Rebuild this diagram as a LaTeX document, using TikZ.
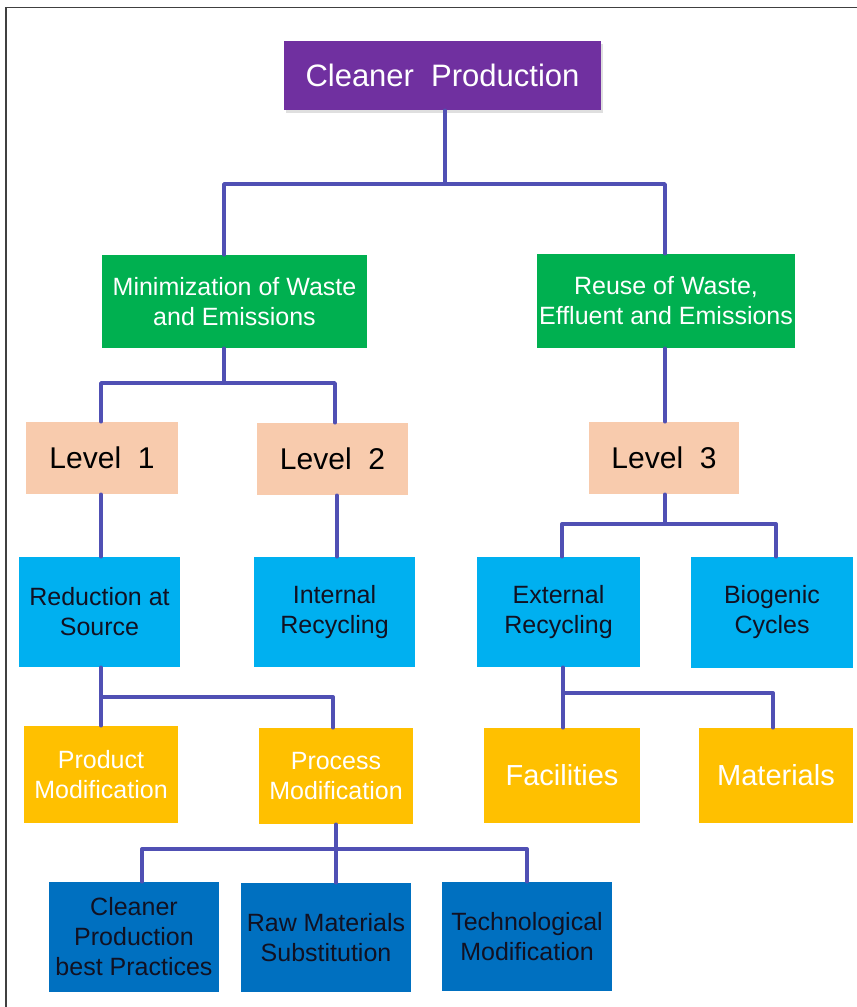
\documentclass[tikz,border=0pt]{standalone}
\usepackage{fontspec}
\setmainfont{Liberation Sans}
\usetikzlibrary{shadows}
\definecolor{cpPurple}{HTML}{7030A0}
\definecolor{cpGreen}{HTML}{00B050}
\definecolor{cpPeach}{HTML}{F8CBAD}
\definecolor{cpLight}{HTML}{00B0F0}
\definecolor{cpGold}{HTML}{FFC000}
\definecolor{cpDark}{HTML}{0070C0}
\definecolor{lineC}{RGB}{80,80,180}
\definecolor{txtDark}{HTML}{111122}
\begin{document}
\begin{tikzpicture}[x=1pt,y=-1pt,
  box/.style={inner sep=0pt, align=center, font=\fontsize{25}{30}\selectfont},
  conn/.style={draw=lineC, line width=3.4pt, line cap=round, line join=round},
  frame/.style={draw=black!75, line width=1.4pt}]
\useasboundingbox (0,0) rectangle (857,1007);
% frame (cropped: top and left edges)
\draw[frame] (6,1007) -- (6,7.5) -- (857,7.5);

% nodes
\node[box, fill=cpPurple, text=white, minimum width=317pt, minimum height=69pt,
  font=\fontsize{31}{36}\selectfont,
  drop shadow={shadow xshift=2pt, shadow yshift=-3pt, opacity=0.25}] (cp) at (442.5,75.5) {Cleaner\ \ Production};

\node[box, fill=cpGreen, text=white, minimum width=265pt, minimum height=93pt] (min) at (234.5,301.5) {Minimization of Waste\\and Emissions};
\node[box, fill=cpGreen, text=white, minimum width=258pt, minimum height=94pt] (reu) at (666,301) {Reuse of Waste,\\Effluent and Emissions};

\node[box, fill=cpPeach, text=black, minimum width=152pt, minimum height=72pt, font=\fontsize{30}{36}\selectfont] (l1) at (102,458) {Level\ \ 1};
\node[box, fill=cpPeach, text=black, minimum width=151pt, minimum height=72pt, font=\fontsize{30}{36}\selectfont] (l2) at (332.5,459) {Level\ \ 2};
\node[box, fill=cpPeach, text=black, minimum width=150pt, minimum height=72pt, font=\fontsize{30}{36}\selectfont] (l3) at (664,458) {Level\ \ 3};

\node[box, fill=cpLight, text=txtDark, minimum width=161pt, minimum height=110pt] (red) at (99.5,612) {Reduction at\\Source};
\node[box, fill=cpLight, text=txtDark, minimum width=161pt, minimum height=110pt] (int) at (334.5,612) {Internal\\Recycling};
\node[box, fill=cpLight, text=txtDark, minimum width=163pt, minimum height=110pt] (ext) at (558.5,612) {External\\Recycling};
\node[box, fill=cpLight, text=txtDark, minimum width=162pt, minimum height=111pt] (bio) at (772,612.5) {Biogenic\\Cycles};

\node[box, fill=cpGold, text=white, minimum width=154pt, minimum height=97pt] (prod) at (101,774.5) {Product\\Modification};
\node[box, fill=cpGold, text=white, minimum width=154pt, minimum height=96pt] (proc) at (336,776) {Process\\Modification};
\node[box, fill=cpGold, text=white, minimum width=156pt, minimum height=95pt, font=\fontsize{29}{34}\selectfont] (fac) at (562,775.5) {Facilities};
\node[box, fill=cpGold, text=white, minimum width=154pt, minimum height=95pt, font=\fontsize{29}{34}\selectfont] (mat) at (776,775.5) {Materials};

\node[box, fill=cpDark, text=txtDark, minimum width=170pt, minimum height=110pt] (cpb) at (134,937) {Cleaner\\Production\\best Practices};
\node[box, fill=cpDark, text=txtDark, minimum width=170pt, minimum height=109pt] (raw) at (326,937.5) {Raw Materials\\Substitution};
\node[box, fill=cpDark, text=txtDark, minimum width=170pt, minimum height=109pt] (tech) at (527,936.5) {Technological\\Modification};

% bus coordinates
\coordinate (a0) at (445,184);
\coordinate (aL) at (224,184);
\coordinate (aR) at (665,184);
\coordinate (b0) at (224,383);
\coordinate (b1) at (101,383);
\coordinate (b2) at (335,383);
\coordinate (c1) at (101,520);
\coordinate (c2) at (337,520);
\coordinate (c3) at (665,380);
\coordinate (d0) at (665,524);
\coordinate (d1) at (562,524);
\coordinate (d2) at (776,524);
\coordinate (e0) at (101,697);
\coordinate (e2) at (333,697);
\coordinate (f0) at (563,693);
\coordinate (f2) at (773,693);
\coordinate (g0) at (336,849);
\coordinate (g1) at (142,849);
\coordinate (g3) at (527,849);

% connectors
\draw[conn] (a0 |- cp.south) -- (a0);
\draw[conn] (min.north -| aL) |- (aR) -- (aR |- reu.north);
\draw[conn] (b0 |- min.south) -- (b0);
\draw[conn] (l1.north -| b1) |- (b2) -- (b2 |- l2.north);
\draw[conn] (c3 |- reu.south) -- (c3 |- l3.north);
\draw[conn] (c1 |- l1.south) -- (c1 |- red.north);
\draw[conn] (c2 |- l2.south) -- (c2 |- int.north);
\draw[conn] (d0 |- l3.south) -- (d0);
\draw[conn] (ext.north -| d1) |- (d2) -- (d2 |- bio.north);
\draw[conn] (e0 |- red.south) -- (e0 |- prod.north);
\draw[conn] (e0) -- (e2) -- (e2 |- proc.north);
\draw[conn] (f0 |- ext.south) -- (f0 |- fac.north);
\draw[conn] (f0) -- (f2) -- (f2 |- mat.north);
\draw[conn] (g0 |- proc.south) -- (g0 |- raw.north);
\draw[conn] (cpb.north -| g1) |- (g3) -- (g3 |- tech.north);
\end{tikzpicture}
\end{document}
